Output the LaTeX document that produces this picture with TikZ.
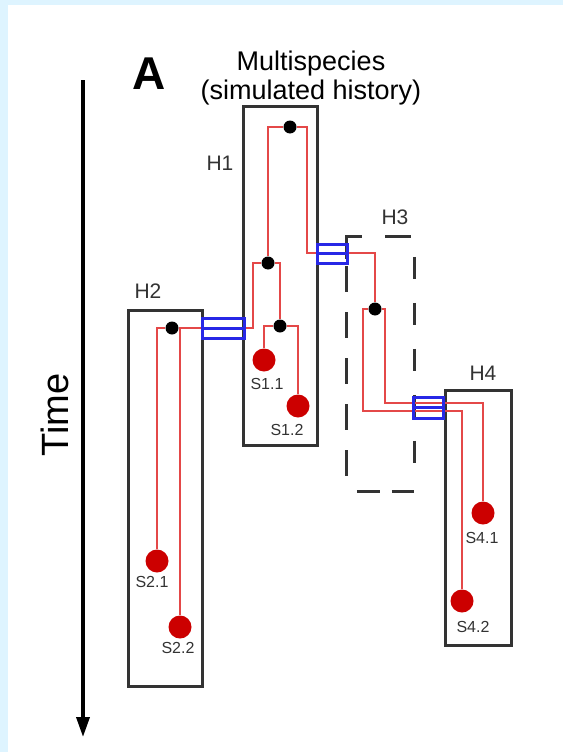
\documentclass[tikz,border=0pt]{standalone}
\usepackage{fontspec}
\setmainfont{Liberation Sans}
\usetikzlibrary{arrows.meta}

\definecolor{framebg}{RGB}{222,244,255}
\definecolor{lineagered}{RGB}{228,72,72}
\definecolor{samplered}{RGB}{204,0,0}
\definecolor{migblue}{RGB}{40,40,230}
\definecolor{hostgray}{RGB}{51,51,51}

\begin{document}
\begin{tikzpicture}[x=1pt,y=-1pt,
    host/.style={draw=hostgray, line width=3pt, inner sep=0pt},
    hostdash/.style={draw=hostgray, line width=3pt},
    hostlab/.style={text=hostgray, font=\fontsize{21}{21}\selectfont},
    lineage/.style={draw=lineagered, line width=1.3pt},
    coal/.style={circle, fill=black, minimum size=13pt, inner sep=0pt},
    sample/.style={circle, fill=samplered, minimum size=23pt, inner sep=0pt},
    samplelab/.style={text=hostgray, font=\fontsize{16}{16}\selectfont},
    migbox/.style={draw=migblue, line width=3pt, inner sep=0pt}]
  % page and frame strips
  \fill[white] (0,0) rectangle (563,752);
  \fill[framebg] (0,0) rectangle (563,5);
  \fill[framebg] (0,0) rectangle (8,752);
  \useasboundingbox (0,0) rectangle (563,752);

  % titles and time axis
  \node[font=\bfseries\fontsize{46}{46}\selectfont] (panel) at (149,74) {A};
  \node[align=center, font=\fontsize{27}{29}\selectfont] (title) at (311,78)
       {Multispecies\\(simulated history)};
  \coordinate (t0) at (83,80);
  \coordinate (t1) at (83,737);
  \draw[line width=3.5pt, -{Triangle[width=13pt,length=20pt]}] (t0) -- (t1);
  \node[rotate=90, font=\fontsize{38}{38}\selectfont] (time) at (55,415) {Time};

  % host boxes
  \node[host, minimum width=74pt, minimum height=339pt] (h1) at (280,275.5) {};
  \node[host, minimum width=74pt, minimum height=376pt] (h2) at (165,498) {};
  \node[inner sep=0pt, minimum width=67pt, minimum height=254pt] (h3) at (380.5,364) {};
  \node[host, minimum width=66pt, minimum height=255pt] (h4) at (478,517.5) {};
  % H3 is only sketched: every side has its own dashes
  \draw[hostdash, line cap=rect, dash pattern=on 21pt off 10pt on 23pt off 23pt on 23pt off 23pt
        on 23pt off 23pt on 23pt off 23pt on 23pt off 100pt] (h3.north west) -- (h3.south west);
  \draw[hostdash, dash pattern=on 0pt off 20pt on 22pt off 24pt on 22pt off 24pt on 22pt off 24pt
        on 22pt off 24pt on 22pt off 100pt] (h3.north east) -- (h3.south east);
  \draw[hostdash, line cap=rect, dash pattern=on 14pt off 26pt on 23pt off 100pt]
        (h3.north west) -- (h3.north east);
  \draw[hostdash, dash pattern=on 0pt off 10pt on 23pt off 12pt on 23pt off 100pt]
        (h3.south west) -- (h3.south east);
  \foreach \name/\pos/\txt in {h1lab/{220,163}/H1, h2lab/{148,291}/H2,
                               h3lab/{395,217}/H3, h4lab/{483,373}/H4}
    \node[hostlab] (\name) at (\pos) {\txt};

  % coalescent events
  \foreach \name/\pos in {c1/{290,127}, c2/{268,263}, c3/{280,326},
                          c4/{172,328}, c5/{375,309}}
    \node[coal] (\name) at (\pos) {};

  % sampled lineages
  \foreach \name/\pos/\lpos/\txt in {s11/{264,360}/{267,384}/S1.1,
                                      s12/{298,406}/{287,430}/S1.2,
                                      s21/{157,561}/{152,582}/S2.1,
                                      s22/{180,627}/{178,648}/S2.2,
                                      s41/{483,513}/{482,538}/S4.1,
                                      s42/{462,601}/{473,627}/S4.2}
    {
      \node[sample] (\name) at (\pos) {};
      \node[samplelab] (\name-lab) at (\lpos) {\txt};
    }

  % gene tree
  \draw[lineage] (c2) |- (c1) -| (307,253) -| (c5);
  \draw[lineage] (c2) -| (253,328) -- (c4);
  \draw[lineage] (c2) -| (c3);
  \draw[lineage] (s11) |- (c3) -| (s12);
  \draw[lineage] (s21) |- (c4) -| (s22);
  \draw[lineage] (c5) -| (363,411) -| (s42);
  \draw[lineage] (c5) -| (385,403) -| (s41);

  % migration events
  \node[migbox, minimum width=42pt, minimum height=20pt] (m12) at (223,328) {};
  \node[migbox, minimum width=30pt, minimum height=19pt] (m13) at (332,253.5) {};
  \node[migbox, minimum width=30pt, minimum height=21pt] (m34) at (428,407.5) {};
  \foreach \m in {m12,m13,m34}
    \draw[draw=migblue, line width=3pt] (\m.west) -- (\m.east);
\end{tikzpicture}
\end{document}
